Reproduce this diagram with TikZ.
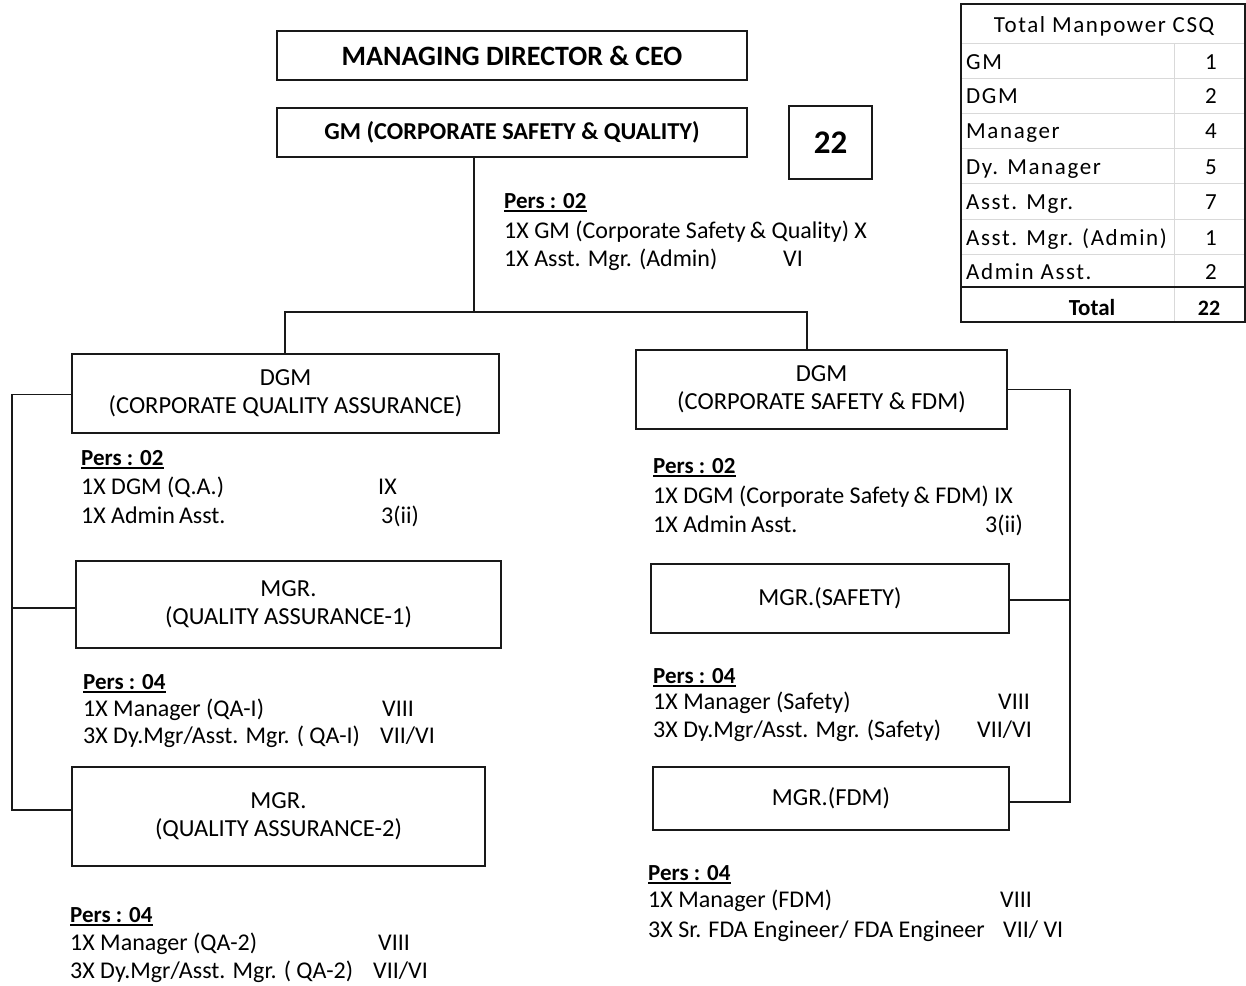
\documentclass[tikz,border=0pt]{standalone}
\usepackage{fontspec}
\setmainfont{Carlito}
\newfontfamily\tabfont[LetterSpace=7]{Carlito}
\newcommand\ulpers[1]{\setbox0\hbox{#1}\rlap{\rule[-3.5pt]{\wd0}{1.3pt}}\box0}
\begin{document}
\begin{tikzpicture}[x=1pt,y=-1pt,
  box/.style={draw=black!90, line width=1.4pt, inner sep=0pt, outer sep=0pt, align=center, font=\fontsize{24.5}{28}\selectfont},
  txt/.style={inner sep=0pt, anchor=base west, font=\fontsize{24}{28}\selectfont},
  head/.style={inner sep=0pt, anchor=base west, font=\bfseries\fontsize{23}{28}\selectfont},
  link/.style={draw=black!90, line width=1.3pt},
  tab/.style={inner sep=0pt, anchor=base west, font=\tabfont\fontsize{23}{26}\selectfont},
  tabn/.style={inner sep=0pt, anchor=base, font=\tabfont\fontsize{23}{26}\selectfont},
  gridline/.style={draw=black!15, line width=1pt}]
\useasboundingbox (0,0) rectangle (1246,985);

% ---- boxes ----
\node[box, minimum width=470, minimum height=49, font=\bfseries\fontsize{28}{30}\selectfont] (md) at (512,55.5) {MANAGING DIRECTOR \& CEO};
\node[box, minimum width=470, minimum height=49, font=\bfseries\fontsize{24.3}{28}\selectfont] (gm) at (512,132.5) {GM (CORPORATE SAFETY \& QUALITY)};
\node[box, minimum width=83, minimum height=73, font=\bfseries\fontsize{33}{36}\selectfont] (num) at (830.5,142.5) {22};
\node[box, minimum width=427, minimum height=79] (dqa) at (285.5,393.5) {DGM\\(CORPORATE QUALITY ASSURANCE)};
\node[box, minimum width=371, minimum height=79] (dfdm) at (821.5,389.5) {DGM\\(CORPORATE SAFETY \& FDM)};
\node[box, minimum width=425, minimum height=87] (mqa1) at (288.5,604.5) {MGR.\\(QUALITY ASSURANCE-1)};
\node[box, minimum width=413, minimum height=99] (mqa2) at (278.5,816.5) {MGR.\\(QUALITY ASSURANCE-2)};
\node[box, minimum width=358, minimum height=69] (msaf) at (830,598.5) {MGR.(SAFETY)};
\node[box, minimum width=356, minimum height=63] (mfdm) at (831,798.5) {MGR.(FDM)};

% ---- connectors ----
\coordinate (tr) at (474,312);
\coordinate (jl) at (285,312);
\coordinate (jr) at (807,312);
\coordinate (lx) at (12,0);
\coordinate (rx) at (1070,0);
\draw[link] (gm.south -| tr) -- (tr);
\draw[link] (jl |- dqa.north) -- (jl) -- (jr) -- (jr |- dfdm.north);
\draw[link] ([yshift=-1pt]dqa.west) -- ([yshift=-1pt]dqa.west -| lx) -- ([yshift=6.5pt]mqa2.west -| lx) -- ([yshift=6.5pt]mqa2.west);
\draw[link] ([yshift=-3.5pt]mqa1.west) -- ([yshift=-3.5pt]mqa1.west -| lx);
\draw[link] (dfdm.east) -- (dfdm.east -| rx) -- ([yshift=-3.5pt]mfdm.east -| rx) -- ([yshift=-3.5pt]mfdm.east);
\draw[link] ([yshift=-1.5pt]msaf.east) -- ([yshift=-1.5pt]msaf.east -| rx);

% ---- personnel texts ----
\node[head] (p1h) at (504,208) {\ulpers{Pers : 02}};
\node[txt] (p1a) at (504,238) {1X GM (Corporate Safety\,\& Quality) X};
\node[txt] (p1b) at (504,266) {1X Asst. Mgr. (Admin)};
\node[txt] (p1bg) at (783,266) {VI};

\node[head] (p2h) at (81,465) {\ulpers{Pers : 02}};
\node[txt] (p2a) at (81,494) {1X DGM (Q.A.)};
\node[txt] (p2ag) at (378,494) {IX};
\node[txt] (p2b) at (81,523) {1X Admin\,Asst.};
\node[txt] (p2bg) at (381,523) {3(ii)};

\node[head] (p3h) at (83,689) {\ulpers{Pers : 04}};
\node[txt] (p3a) at (83,716) {1X Manager (QA-I)};
\node[txt] (p3ag) at (382,716) {VIII};
\node[txt] (p3b) at (83,743) {3X Dy.Mgr/Asst. Mgr. ( QA-I)};
\node[txt] (p3bg) at (380,743) {VII/VI};

\node[head] (p4h) at (70,922) {\ulpers{Pers : 04}};
\node[txt] (p4a) at (70,950) {1X Manager (QA-2)};
\node[txt] (p4ag) at (378,950) {VIII};
\node[txt] (p4b) at (70,978) {3X Dy.Mgr/Asst. Mgr. ( QA-2)};
\node[txt] (p4bg) at (373,978) {VII/VI};

\node[head] (p5h) at (653,473) {\ulpers{Pers : 02}};
\node[txt] (p5a) at (653,503) {1X DGM (Corporate Safety\,\& FDM) IX};
\node[txt] (p5b) at (653,532) {1X Admin\,Asst.};
\node[txt] (p5bg) at (985,532) {3(ii)};

\node[head] (p6h) at (653,683) {\ulpers{Pers : 04}};
\node[txt] (p6a) at (653,709) {1X Manager (Safety)};
\node[txt] (p6ag) at (998,709) {VIII};
\node[txt] (p6b) at (653,737) {3X Dy.Mgr/Asst. Mgr. (Safety)};
\node[txt] (p6bg) at (977,737) {VII/VI};

\node[head] (p7h) at (648,880) {\ulpers{Pers : 04}};
\node[txt] (p7a) at (648,907) {1X Manager (FDM)};
\node[txt] (p7ag) at (1000,907) {VIII};
\node[txt] (p7b) at (648,937) {3X Sr. FDA Engineer/ FDA Engineer};
\node[txt] (p7bg) at (1003,937) {VII/ VI};

% ---- manpower table ----
\foreach \yy in {43,78,113,148,183,219,254} \draw[gridline] (961,\yy) -- (1245,\yy);
\draw[gridline] (1174,43) -- (1174,322);
\draw[line width=1.4pt, draw=black!90] (961,287) -- (1245,287);
\draw[line width=1.4pt, draw=black!90] (961,4) rectangle (1245,322);
\node[tabn] (tt) at (1104,32) {Total Manpower CSQ};
\node[tab] (r1) at (966,69) {GM};
\node[tab] (r2) at (966,103) {DGM};
\node[tab] (r3) at (966,138) {Manager};
\node[tab] (r4) at (966,174) {Dy. Manager};
\node[tab] (r5) at (966,209) {Asst. Mgr.};
\node[tab] (r6) at (966,245) {Asst. Mgr. (Admin)};
\node[tab] (r7) at (966,279) {Admin Asst.};
\node[tabn, font=\bfseries\fontsize{23}{26}\selectfont] (r8) at (1092,315) {Total};
\node[tabn] (n1) at (1211,69) {1};
\node[tabn] (n2) at (1211,103) {2};
\node[tabn] (n3) at (1211,138) {4};
\node[tabn] (n4) at (1211,174) {5};
\node[tabn] (n5) at (1211,209) {7};
\node[tabn] (n6) at (1211,245) {1};
\node[tabn] (n7) at (1211,279) {2};
\node[tabn, font=\bfseries\fontsize{22}{26}\selectfont] (n8) at (1209,315) {22};
\end{tikzpicture}
\end{document}
